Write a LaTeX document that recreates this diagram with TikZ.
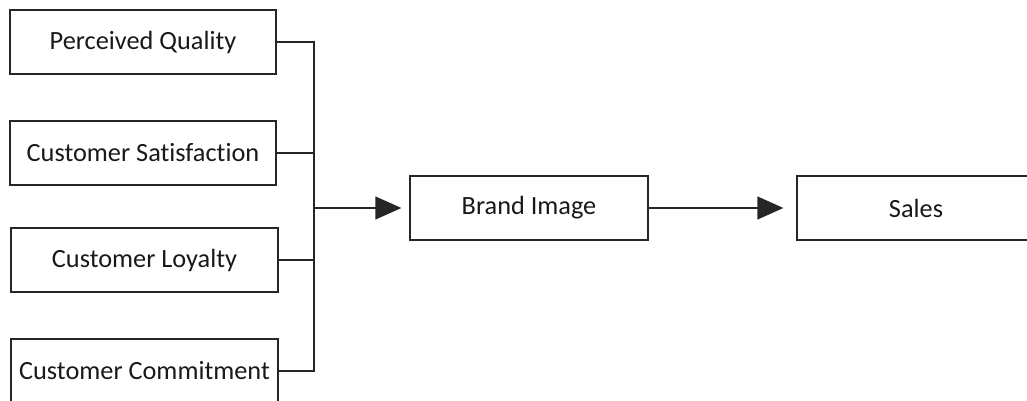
\documentclass[tikz,border=0pt]{standalone}
\usepackage{fontspec}
\setmainfont[RawFeature=-liga]{Carlito}
\usetikzlibrary{arrows.meta}
\begin{document}
\begin{tikzpicture}[x=1pt,y=1pt,
  box/.style={draw=black!85, line width=1.3pt, minimum height=64pt, inner sep=0pt, font=\fontsize{26.3}{30}\selectfont, text=black!90},
  link/.style={draw=black!85, line width=1.3pt},
  arr/.style={link, -{Triangle[length=26pt,width=23pt]}}]
\useasboundingbox (0,0) rectangle (1027,401);
\node[box, minimum width=266pt] (pq) at (143,359) {Perceived Quality};
\node[box, minimum width=266pt] (cs) at (143,248) {Customer Satisfaction};
\node[box, minimum width=267pt] (cl) at (144.5,141) {Customer Loyalty};
\node[box, minimum width=267pt] (cc) at (144.5,30) {Customer Commitment};
\node[box, minimum width=238pt] (bi) at (529,193) {Brand Image};
\node[box, minimum width=238pt] (sa) at (916,193) {Sales};
\coordinate (top) at (314,359);
\coordinate (bot) at (314,30);
\coordinate (mid) at (314,193);
\draw[link] (pq.east) -- (top) -- (bot -| top) -- (cc.east |- bot);
\draw[link] (cs.east) -- (cs.east -| top);
\draw[link] (cl.east) -- (cl.east -| top);
\draw[arr, shorten >=8pt] (mid) -- (bi.west);
\draw[arr, shorten >=13pt] (bi.east) -- (sa.west);
\end{tikzpicture}
\end{document}
